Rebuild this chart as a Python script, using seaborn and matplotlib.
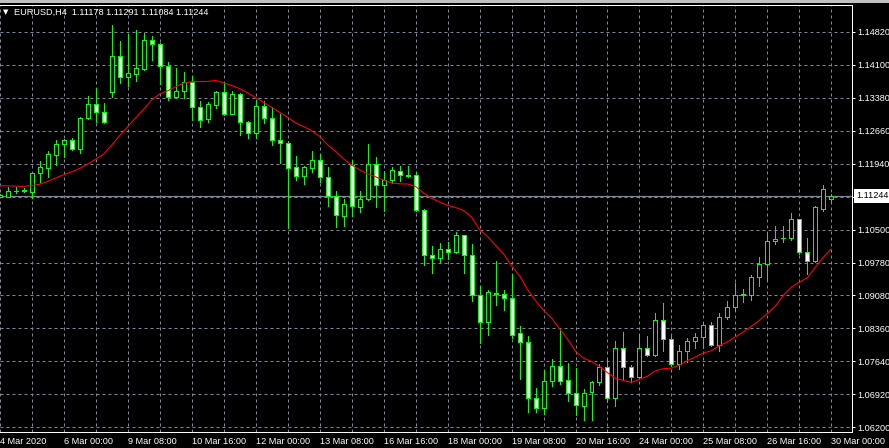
import matplotlib
matplotlib.use("Agg")
import matplotlib.pyplot as plt
import matplotlib.transforms as mtransforms
from matplotlib.patches import Rectangle
import numpy as np
import pandas as pd
import seaborn as sns

# ---------------- data ----------------
symbol_title = "EURUSD,H4"
bar_index = list(range(-1, 104))

opens = [1.1123, 1.11228, 1.1134, 1.11343, 1.11339, 1.11735, 1.11862, 1.12145, 1.12372, 1.1246,
         1.12276, 1.12934, 1.13244, 1.13069, 1.13519, 1.1429, 1.13832, 1.13911, 1.1402, 1.14639,
         1.14552, 1.14072, 1.1341, 1.13527, 1.1373, 1.13178, 1.1293, 1.13235, 1.13505, 1.13039,
         1.13461, 1.12851, 1.12612, 1.132, 1.12939, 1.1246, 1.12394, 1.11871, 1.11687, 1.11862,
         1.12023, 1.11652, 1.11238, 1.10815, 1.11914, 1.10992, 1.11179, 1.11942, 1.1148, 1.11583,
         1.11783, 1.11696, 1.11696, 1.10933, 1.09952, 1.09887, 1.10083, 1.10009, 1.10388, 1.09952,
         1.0908, 1.08491, 1.09093, 1.09102, 1.09015, 1.08247, 1.08056, 1.0683, 1.06612, 1.07197,
         1.07532, 1.07227, 1.06935, 1.06656, 1.06961, 1.07179, 1.0751, 1.06835, 1.07931, 1.0751,
         1.07292, 1.07931, 1.07771, 1.08535, 1.08121, 1.07582, 1.0785, 1.08077, 1.08156, 1.08426,
         1.0799, 1.086, 1.08818, 1.0908, 1.09087, 1.09472, 1.09747, 1.10257, 1.10318, 1.10323,
         1.10737, 1.10017, 1.09821, 1.10968, 1.11178]

highs = [1.1128, 1.11434, 1.11434, 1.11426, 1.11753, 1.12008, 1.12232, 1.12466, 1.12477, 1.1251,
         1.12974, 1.13418, 1.13588, 1.13266, 1.14973, 1.14624, 1.14776, 1.14864, 1.14798, 1.14733,
         1.1458, 1.14159, 1.14029, 1.13948, 1.13861, 1.13316, 1.13294, 1.1354, 1.13723, 1.13527,
         1.1349, 1.12886, 1.13338, 1.13322, 1.13192, 1.13026, 1.12444, 1.12114, 1.11899, 1.12219,
         1.1216, 1.11871, 1.11354, 1.11179, 1.12023, 1.11354, 1.12378, 1.12089, 1.1179, 1.11884,
         1.11899, 1.11899, 1.11768, 1.10961, 1.10155, 1.10214, 1.10242, 1.1046, 1.10395, 1.10198,
         1.09283, 1.09196, 1.09828, 1.09196, 1.09544, 1.08411, 1.08193, 1.07059, 1.07452, 1.07691,
         1.08335, 1.07598, 1.07485, 1.07037, 1.07212, 1.07582, 1.07713, 1.08082, 1.0828, 1.07561,
         1.0823, 1.08193, 1.08679, 1.08897, 1.08193, 1.07989, 1.08149, 1.08252, 1.08491, 1.08491,
         1.08688, 1.08956, 1.09341, 1.09217, 1.09516, 1.09908, 1.1046, 1.10591, 1.10591, 1.10874,
         1.10743, 1.10323, 1.11027, 1.11485, 1.11291]

lows = [1.1121, 1.11223, 1.1131, 1.11325, 1.11195, 1.1155, 1.11666, 1.11927, 1.12102, 1.12248,
        1.12189, 1.1293, 1.12858, 1.1284, 1.1341, 1.13715, 1.13647, 1.13758, 1.13992, 1.1421,
        1.13686, 1.13327, 1.13375, 1.13375, 1.12895, 1.12756, 1.12864, 1.1317, 1.1301, 1.13021,
        1.12575, 1.12516, 1.12503, 1.1283, 1.12357, 1.11971, 1.10541, 1.116, 1.11506, 1.11775,
        1.11557, 1.11033, 1.10554, 1.10576, 1.10794, 1.10881, 1.11158, 1.10999, 1.10924, 1.11517,
        1.11578, 1.11652, 1.10918, 1.09725, 1.09551, 1.09799, 1.09856, 1.09987, 1.09551, 1.08941,
        1.08034, 1.08208, 1.08862, 1.0876, 1.08138, 1.07255, 1.06536, 1.06536, 1.06492, 1.07088,
        1.07146, 1.06776, 1.06471, 1.06362, 1.06362, 1.0711, 1.06739, 1.06667, 1.07234, 1.0719,
        1.07277, 1.07756, 1.07756, 1.07866, 1.07524, 1.07467, 1.07611, 1.07916, 1.07916, 1.07959,
        1.0785, 1.08563, 1.08738, 1.08919, 1.08978, 1.09268, 1.09381, 1.10184, 1.10227, 1.1027,
        1.09974, 1.09529, 1.09806, 1.10903, 1.11084]

closes = [1.1126, 1.11347, 1.11355, 1.11365, 1.1174, 1.11873, 1.12154, 1.12372, 1.1246, 1.12276,
          1.12945, 1.13244, 1.13069, 1.12851, 1.14297, 1.13832, 1.13926, 1.14029, 1.14639, 1.14552,
          1.14072, 1.13403, 1.13534, 1.1373, 1.13178, 1.12908, 1.1325, 1.13505, 1.13039, 1.13461,
          1.12851, 1.12612, 1.132, 1.12939, 1.1246, 1.12394, 1.11849, 1.11687, 1.11871, 1.12023,
          1.11652, 1.11238, 1.10824, 1.1107, 1.1102, 1.11175, 1.11942, 1.1148, 1.11589, 1.11805,
          1.11696, 1.11687, 1.10933, 1.09952, 1.09887, 1.10083, 1.10017, 1.10388, 1.09952, 1.0908,
          1.08491, 1.09145, 1.0913, 1.09015, 1.08204, 1.08047, 1.06826, 1.06616, 1.07205, 1.07532,
          1.07197, 1.06935, 1.06678, 1.06944, 1.07184, 1.07517, 1.06835, 1.07931, 1.0751, 1.07292,
          1.07931, 1.07779, 1.08535, 1.08112, 1.07567, 1.07859, 1.08077, 1.08171, 1.08426, 1.0799,
          1.08607, 1.08818, 1.0908, 1.09098, 1.09472, 1.09756, 1.10257, 1.10301, 1.10329, 1.10737,
          1.10017, 1.09821, 1.10998, 1.11391, 1.11244]

ma_values = [1.11463, 1.11463, 1.11456, 1.11452, 1.11469, 1.115, 1.11561, 1.11637, 1.11707, 1.11768,
             1.11844, 1.11942, 1.12047, 1.1216, 1.12357, 1.12564, 1.1276, 1.1295, 1.13141, 1.13338,
             1.13468, 1.13538, 1.13625, 1.13708, 1.13734, 1.13737, 1.13741, 1.13763, 1.13708, 1.13654,
             1.13582, 1.1349, 1.13386, 1.13283, 1.13174, 1.13065, 1.12956, 1.12836, 1.12756, 1.12662,
             1.12542, 1.12357, 1.12215, 1.12051, 1.11914, 1.11812, 1.11724, 1.11659, 1.11587, 1.11528,
             1.11506, 1.11502, 1.11448, 1.11304, 1.1119, 1.1111, 1.11038, 1.1099, 1.10924, 1.10781,
             1.1051, 1.10358, 1.10166, 1.09976, 1.09719, 1.09501, 1.09196, 1.08956, 1.08744, 1.08579,
             1.08345, 1.08121, 1.07855, 1.07702, 1.0763, 1.07521, 1.07386, 1.07262, 1.07216, 1.07175,
             1.07238, 1.07306, 1.07426, 1.07474, 1.07485, 1.0755, 1.07648, 1.07729, 1.07816, 1.07862,
             1.07975, 1.08056, 1.08167, 1.08273, 1.08395, 1.08526, 1.08679, 1.08836, 1.09076, 1.0925,
             1.09359, 1.09457, 1.09686, 1.09904, 1.10085]

time_tick_bars = [-1, 7, 15, 23, 31, 39, 47, 55, 63, 71, 79, 87, 95, 103]
time_tick_labels = ["4 Mar 2020", "6 Mar 00:00", "9 Mar 08:00", "10 Mar 16:00", "12 Mar 00:00",
                    "13 Mar 08:00", "16 Mar 16:00", "18 Mar 00:00", "19 Mar 08:00", "20 Mar 16:00",
                    "24 Mar 00:00", "25 Mar 08:00", "26 Mar 16:00", "30 Mar 00:00"]
grid_bars = [3, 11, 19, 27, 35, 43, 51, 59, 67, 75, 83, 91, 99]

price_ticks = [1.06200, 1.06920, 1.07640, 1.08360, 1.09080, 1.09780, 1.10500, 1.11220,
               1.11940, 1.12660, 1.13380, 1.14100, 1.14820]
price_tick_labels = ["1.06200", "1.06920", "1.07640", "1.08360", "1.09080", "1.09780", "1.10500", "",
                     "1.11940", "1.12660", "1.13380", "1.14100", "1.14820"]

# ---------------- style ----------------
sns.set_theme(style="dark", rc={"axes.facecolor": "black", "figure.facecolor": "black"})
plt.rcParams["font.family"] = ["Liberation Sans", "DejaVu Sans"]

W, H, DPI = 889, 448, 100
PX = 72.0 / DPI           # one pixel in points
GRID_C = "#7d8796"
LIME = "#00ff00"
FS = 6.6

df = pd.DataFrame({"bar": bar_index, "open": opens, "high": highs, "low": lows,
                   "close": closes, "ma": ma_values})
df["bull"] = df["close"] >= df["open"]
df["body_low"] = df[["open", "close"]].min(axis=1)
df["body_h"] = (df["close"] - df["open"]).abs()

fig = plt.figure(figsize=(W / DPI, H / DPI), dpi=DPI, facecolor="black")
ax = fig.add_axes([0, 16 / H, 852 / W, 427 / H])
ax.set_facecolor("black")

# candles
ax.vlines(df["bar"], df["low"], df["high"], colors=LIME, linewidth=PX,
          antialiased=False, zorder=3)
ax.bar(df["bar"], df["body_h"], bottom=df["body_low"], width=0.5,
       color=np.where(df["bull"], "black", "white"), edgecolor=LIME,
       linewidth=PX, antialiased=False, zorder=4)

# moving average
sns.lineplot(data=df, x="bar", y="ma", color="red", linewidth=PX * 1.1, ax=ax,
             zorder=5, legend=False)

# bid line
last_close = closes[-1]
ax.axhline(last_close, color=GRID_C, linewidth=PX * 1.2, zorder=2)

ax.set_xlim(-0.91, 105.59)
ax.set_ylim(1.06091, 1.15409)
ax.set_xlabel("")
ax.set_ylabel("")

# ticks / grid
ax.set_xticks(time_tick_bars)
ax.set_xticklabels(time_tick_labels, ha="left")
ax.set_xticks(grid_bars, minor=True)
ax.set_yticks(price_ticks)
ax.set_yticklabels(price_tick_labels)
ax.yaxis.tick_right()
ax.tick_params(which="both", direction="out", length=3 * PX, width=PX, color="white",
               labelcolor="white", labelsize=FS, pad=1.5)
ax.tick_params(axis="x", which="major", pad=1.2)
ax.grid(True, which="both", axis="x", color=GRID_C, linestyle=(0, (3, 3)), linewidth=PX)
ax.grid(True, which="major", axis="y", color=GRID_C, linestyle=(0, (3, 3)), linewidth=PX)
for lab in ax.get_xticklabels():
    lab.set_fontsize(FS)

for side in ("top", "right", "bottom"):
    ax.spines[side].set_visible(True)
    ax.spines[side].set_color("white")
    ax.spines[side].set_linewidth(PX)
ax.spines["left"].set_visible(False)

# current price label
trans = mtransforms.blended_transform_factory(ax.transAxes, ax.transData)
ax.text(1.0 + 4.5 / 852, last_close, f"{last_close:.5f}", transform=trans, ha="left", va="center",
        color="black", fontsize=FS, clip_on=False, zorder=10,
        bbox=dict(boxstyle="square,pad=0.3", fc="white", ec="none"))

# header text
fig.text(3 / W, 1 - 12 / H, "\u25BC", color="white", fontsize=5, va="center", ha="left",
         family=["DejaVu Sans"])
header = f"{symbol_title}  {opens[-1]:.5f} {highs[-1]:.5f} {lows[-1]:.5f} {closes[-1]:.5f}"
fig.text(14 / W, 1 - 12.5 / H, header, color="white", fontsize=FS, va="center", ha="left")

# window edge at top
fig.patches.append(Rectangle((0, 1 - 3 / H), 1, 3 / H, transform=fig.transFigure,
                             facecolor="#c0c0c0", edgecolor="none", zorder=0))

fig.savefig("out.png", dpi=DPI, facecolor="black")
